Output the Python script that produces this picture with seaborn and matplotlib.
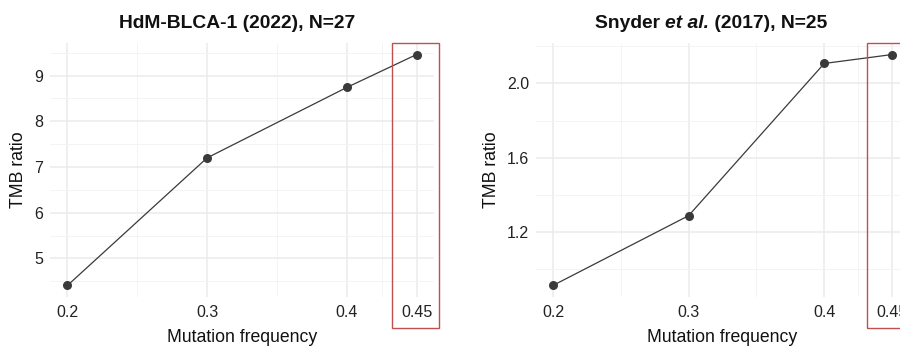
import matplotlib
matplotlib.use("Agg")
import matplotlib.pyplot as plt
import seaborn as sns
import pandas as pd
from matplotlib.patches import Rectangle

mut_freq = [0.2, 0.3, 0.4, 0.45]
tick_labels = ["0.2", "0.3", "0.4", "0.45"]
hdm_tmb = [4.41, 7.20, 8.74, 9.46]
snyder_tmb = [0.914, 1.289, 2.107, 2.155]
title_left = "HdM-BLCA-1 (2022), N=27"
title_right_parts = [("Snyder ", "normal"), ("et al.", "italic"), (" (2017), N=25", "normal")]

sns.set_theme(style="whitegrid")
plt.rcParams["font.family"] = ["Liberation Sans", "DejaVu Sans"]

W, H = 900, 346
fig = plt.figure(figsize=(9, 3.46), dpi=100)

def px_rect(x0, y0, x1, y1):
    return [x0 / W, (H - y1) / H, (x1 - x0) / W, (y1 - y0) / H]

ax1 = fig.add_axes(px_rect(50, 43, 434, 297))
ax2 = fig.add_axes(px_rect(536, 43, 909, 297))

def style(ax, y, yticks, yminor, ylab_fmt):
    df = pd.DataFrame({"x": mut_freq, "y": y})
    sns.lineplot(data=df, x="x", y="y", ax=ax, color="#3a3a3a", linewidth=0.9,
                 marker="o", markersize=6.5, markeredgewidth=0, zorder=3)
    lo, hi = min(y), max(y)
    pad = (hi - lo) * 0.05
    ax.set_ylim(lo - pad, hi + pad)
    ax.set_xlim(0.1875, 0.4625)
    ax.set_xticks(mut_freq)
    ax.set_xticklabels(tick_labels)
    ax.set_xticks([0.25, 0.35, 0.425], minor=True)
    ax.set_yticks(yticks)
    ax.set_yticklabels([ylab_fmt.format(v) for v in yticks])
    ax.set_yticks(yminor, minor=True)
    ax.grid(True, which="major", color="#ebebeb", linewidth=1.1)
    ax.grid(True, which="minor", color="#f3f3f3", linewidth=0.6)
    for s in ax.spines.values():
        s.set_visible(False)
    ax.set_facecolor("white")
    ax.tick_params(axis="x", which="both", length=0, labelsize=11.5,
                   labelcolor="#222222", pad=6)
    ax.tick_params(axis="y", which="both", length=0, labelsize=11.5,
                   labelcolor="#222222", pad=5)
    ax.set_xlabel("Mutation frequency", fontsize=12.7, color="#111111", labelpad=6)
    ax.set_ylabel("TMB ratio", fontsize=12.7, color="#111111", labelpad=5)

style(ax1, hdm_tmb, [5, 6, 7, 8, 9], [4.5, 5.5, 6.5, 7.5, 8.5, 9.5], "{:g}")
style(ax2, snyder_tmb, [1.2, 1.6, 2.0], [1.0, 1.4, 1.8, 2.2], "{:.1f}")

ty = 1 - 23 / H
fig.text(237 / W, ty, title_left, ha="center", va="center",
         fontsize=13.9, fontweight="bold", color="#111111")

# compose right title from pieces
renderer = fig.canvas.get_renderer()
pieces = []
for txt, st in title_right_parts:
    t = fig.text(0, ty, txt, ha="left", va="center", fontsize=13.9,
                 fontweight="bold", fontstyle=st, color="#111111")
    pieces.append(t)
widths = [p.get_window_extent(renderer).width for p in pieces]
total = sum(widths)
x = 711 - total / 2
for p, w in zip(pieces, widths):
    p.set_x(x / W)
    x += w

red = "#c0504d"
fig.patches.append(Rectangle((392 / W, (H - 328) / H), 47 / W, 285 / H,
                             transform=fig.transFigure, fill=False,
                             edgecolor=red, linewidth=1.0))
fig.patches.append(Rectangle((867 / W, (H - 328) / H), 60 / W, 285 / H,
                             transform=fig.transFigure, fill=False,
                             edgecolor=red, linewidth=1.0))

fig.savefig("out.png", dpi=100)
